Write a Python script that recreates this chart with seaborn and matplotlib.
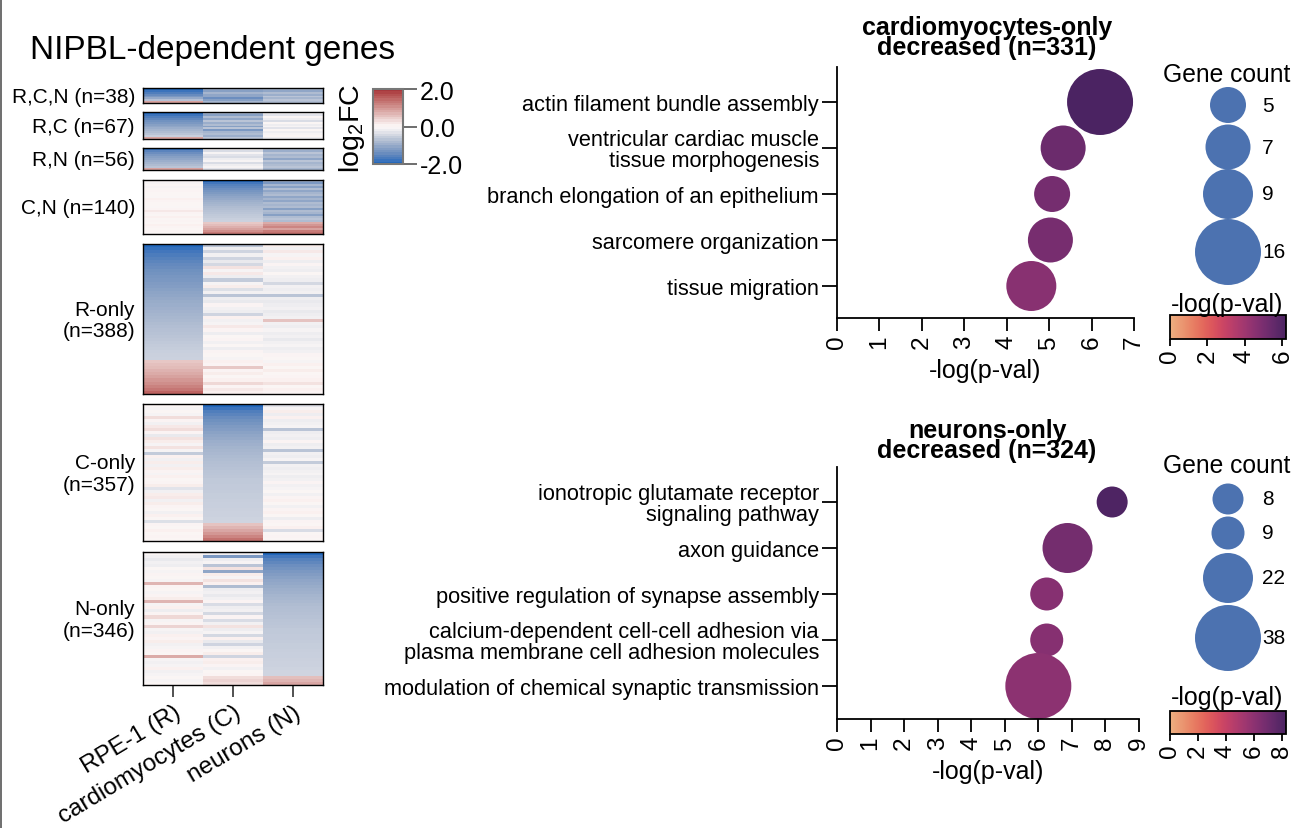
import numpy as np
import pandas as pd
import matplotlib
matplotlib.use('Agg')
import matplotlib.pyplot as plt
from matplotlib.cm import ScalarMappable
from matplotlib.colors import Normalize
from matplotlib.lines import Line2D
import seaborn as sns

# heatmap values (one entry = one stripe, top to bottom)
rcn_r = [-2.0, -1.85, -1.7, -1.5, -1.3, -1.05, -0.75, 0.9]
rcn_c = [-1.0, -1.2, -0.9, -1.1, -1.1, -1.45, -1.2, -0.9]
rcn_n = [-0.9, -1.1, -0.8, -1.0, -0.7, -0.9, -0.7, -0.8]

rc_r = [-2.0, -1.85, -1.7, -1.55, -1.4, -1.3, -1.2, -1.1, -1.0, -0.9, -0.8, -0.7, -0.55, 0.9]
rc_c = [-0.9, -1.2, -0.8, -1.1, -0.7, -1.0, -0.8, -1.2, -0.7, -1.3, -0.9, -0.8, -1.0, -0.7]
rc_n = [-0.1, -0.3, 0.0, -0.2, -0.4, 0.0, -0.2, -0.1, -0.3, 0.0, -0.2, -0.1, 0.0, -0.2]

rn_r = [-1.9, -1.6, -1.45, -1.3, -1.2, -1.1, -1.0, -0.9, -0.8, -0.7, 0.9]
rn_c = [-0.2, -0.4, -0.1, -0.3, -0.4, -0.2, -0.1, -0.4, -0.2, -0.1, -0.3]
rn_n = [-0.8, -1.0, -0.7, -0.9, -0.8, -1.1, -0.7, -0.9, -0.8, -0.7, -0.9]

cn_r = [-0.05, -0.1, 0.0, -0.1, 0.0, 0.05, 0.0, 0.0, -0.05, 0.1, 0.05, 0.0, 0.0, -0.05,
        0.05, 0.2, 0.05, 0.0, 0.1, 0.0, 0.05, 0.0, 0.1, 0.05, 0.0, 0.05, 0.0]
cn_c = [-2.0, -1.8, -1.65, -1.55, -1.45, -1.35, -1.28, -1.2, -1.12, -1.05, -0.98, -0.92, -0.86, -0.8,
        -0.76, -0.72, -0.68, -0.64, -0.6, -0.56, -0.52, 0.5, 0.62, 0.75, 0.9, 1.1, 1.3]
cn_n = [-1.0, -1.3, -0.9, -1.2, -0.8, -1.1, -0.9, -0.8, -1.1, -0.9, -1.1, -0.8, -0.9, -0.8,
        -1.2, -0.8, -0.9, -1.2, -0.8, -0.7, -0.8, 0.8, 1.0, 1.2, 0.9, 1.3, 1.4]

ronly_r = [-2.0, -1.9, -1.8, -1.72, -1.65, -1.58, -1.52, -1.47, -1.42, -1.38, -1.34, -1.3,
           -1.26, -1.22, -1.18, -1.14, -1.1, -1.06, -1.02, -0.99, -0.96, -0.93, -0.9, -0.87,
           -0.84, -0.81, -0.78, -0.75, -0.72, -0.69, -0.66, -0.63, -0.6, -0.58, -0.56, -0.54,
           -0.52, 0.52, 0.58, 0.64, 0.72, 0.8, 0.9, 1.0, 1.1, 1.22, 1.35, 1.55]
ronly_c = [-0.7, -0.2, -0.5, -0.15, -0.5, -0.25, -0.45, 0.25, -0.1, 0.2, -0.2, -0.6,
           -0.1, 0.15, -0.35, -0.15, -0.7, -0.2, -0.25, 0.05, -0.15, -0.2, -0.5, 0.1,
           -0.15, -0.1, 0.2, 0.05, -0.2, 0.0, 0.05, -0.15, 0.0, -0.2, 0.05, 0.0,
           -0.1, 0.1, 0.05, 0.5, 0.05, 0.15, 0.0, 0.1, 0.35, 0.05, 0.2, 0.1]
ronly_n = [0.15, -0.15, 0.2, -0.1, 0.1, -0.2, 0.05, -0.15, -0.2, 0.0, -0.15, -0.2,
           -0.45, -0.15, -0.2, -0.15, -0.7, -0.2, -0.25, -0.2, -0.15, -0.25, -0.2, -0.15,
           0.55, -0.15, -0.2, -0.1, -0.2, -0.15, -0.25, -0.15, -0.1, -0.2, -0.15, 0.05,
           0.0, -0.1, 0.1, 0.0, 0.15, 0.0, 0.05, 0.1, 0.25, 0.0, 0.1, 0.05]

conly_r = [0.0, -0.1, 0.0, -0.1, 0.3, 0.05, -0.15, 0.2, 0.3, 0.05, -0.25, 0.25,
           0.15, -0.1, 0.25, -0.1, -0.6, 0.1, -0.15, 0.15, -0.15, 0.15, 0.05, -0.1,
           0.1, 0.0, 0.05, 0.15, -0.3, -0.15, 0.15, 0.2, -0.15, 0.15, 0.05, 0.0,
           -0.15, 0.1, 0.0, -0.35, 0.05, 0.0, 0.1, 0.0, 0.05, 0.0]
conly_c = [-2.0, -1.85, -1.7, -1.6, -1.5, -1.42, -1.35, -1.28, -1.22, -1.16, -1.1, -1.05,
           -1.0, -0.96, -0.92, -0.88, -0.85, -0.82, -0.79, -0.76, -0.74, -0.72, -0.7, -0.68,
           -0.66, -0.64, -0.63, -0.62, -0.61, -0.6, -0.59, -0.58, -0.57, -0.56, -0.55, -0.54,
           -0.53, -0.52, -0.51, -0.5, 0.55, 0.7, 0.85, 1.0, 1.2, 1.4]
conly_n = [-0.3, -0.1, 0.15, -0.2, 0.1, -0.2, -0.15, -0.1, -0.7, -0.2, -0.15, -0.2,
           0.05, -0.2, -0.15, -0.7, -0.15, -0.2, -0.1, -0.6, -0.15, -0.2, -0.15, -0.1,
           -0.2, -0.15, 0.05, -0.15, -0.1, 0.0, -0.15, 0.05, 0.1, 0.0, -0.15, 0.05,
           0.1, 0.0, -0.2, 0.05, 0.0, 0.1, -0.4, 0.0, 0.05, 0.0]

nonly_r = [0.0, -0.15, -0.25, -0.15, -0.2, 0.0, -0.1, 0.05, 0.0, -0.1, 0.7, 0.05,
           0.0, -0.1, 0.05, 0.15, 0.7, -0.1, 0.1, -0.2, 0.05, 0.35, -0.1, 0.05,
           0.4, -0.1, -0.15, 0.1, 0.05, 0.15, -0.15, -0.1, 0.05, 0.0, 0.8, -0.1,
           -0.15, -0.1, 0.1, -0.15, -0.1, 0.0, -0.1, 0.0]
nonly_c = [-0.15, -1.3, -0.2, -0.1, -0.7, 0.25, -1.1, 0.15, -0.1, 0.25, 0.1, -0.8,
           -0.2, -0.15, -0.25, -0.15, 0.05, -0.4, -0.2, -0.15, -0.45, 0.05, -0.4, -0.15,
           0.25, -0.2, -0.1, -0.45, 0.1, -0.25, -0.5, -0.15, 0.0, 0.15, -0.5, 0.1,
           0.15, 0.05, -0.15, 0.0, 0.05, 0.3, 0.4, 0.3]
nonly_n = [-2.0, -1.8, -1.65, -1.55, -1.45, -1.38, -1.3, -1.24, -1.18, -1.12, -1.07, -1.02,
           -0.98, -0.94, -0.9, -0.87, -0.84, -0.81, -0.78, -0.76, -0.74, -0.72, -0.7, -0.68,
           -0.66, -0.64, -0.63, -0.62, -0.61, -0.6, -0.59, -0.58, -0.57, -0.56, -0.55, -0.54,
           -0.53, -0.52, -0.51, -0.5, -0.49, 0.6, 0.7, 0.85]

block_names = ['R,C,N (n=38)', 'R,C (n=67)', 'R,N (n=56)', 'C,N (n=140)',
               'R-only\n(n=388)', 'C-only\n(n=357)', 'N-only\n(n=346)']
cell_types = ['RPE-1 (R)', 'cardiomyocytes (C)', 'neurons (N)']

# bubble plots
cardio_terms = ['actin filament bundle assembly',
                'ventricular cardiac muscle\ntissue morphogenesis',
                'branch elongation of an epithelium',
                'sarcomere organization',
                'tissue migration']
cardio_pval = [6.2, 5.33, 5.07, 5.03, 4.58]
cardio_count = [16, 7, 5, 7, 9]

neuron_terms = ['ionotropic glutamate receptor\nsignaling pathway',
                'axon guidance',
                'positive regulation of synapse assembly',
                'calcium-dependent cell-cell adhesion via\nplasma membrane cell adhesion molecules',
                'modulation of chemical synaptic transmission']
neuron_pval = [8.2, 6.87, 6.25, 6.25, 6.0]
neuron_count = [8, 22, 9, 9, 38]

cardio_legend = [5, 7, 9, 16]
neuron_legend = [8, 9, 22, 38]

W, H = 1316, 829
sns.set_theme(style='ticks')
plt.rcParams['font.family'] = ['Liberation Sans', 'DejaVu Sans']
plt.rcParams['mathtext.default'] = 'regular'
plt.rcParams['axes.linewidth'] = 1.1
fig = plt.figure(figsize=(W / 100, H / 100), dpi=100)


def px_axes(l, t, r, b):
    return fig.add_axes([l / W, 1 - b / H, (r - l) / W, (b - t) / H])


def px_size(d):
    # bubble diameter in pixels -> scatter area
    return (d * 0.72) ** 2


fig.text(30 / W, 1 - 50 / H, 'NIPBL-dependent genes', fontsize=24, va='center', ha='left', color='black')
fig.add_artist(Line2D([0.0006, 0.0006], [0, 1], color='#555555', lw=1.2))

##############
# heatmaps
blocks = [(rcn_r, rcn_c, rcn_n), (rc_r, rc_c, rc_n), (rn_r, rn_c, rn_n), (cn_r, cn_c, cn_n),
          (ronly_r, ronly_c, ronly_n), (conly_r, conly_c, conly_n), (nonly_r, nonly_c, nonly_n)]
block_top = [89, 113, 149, 181, 245, 405, 553]
block_bottom = [104, 140, 171, 235, 395, 542, 686]

for i in range(len(blocks)):
    ax = px_axes(143, block_top[i], 323, block_bottom[i])
    df = pd.DataFrame(np.column_stack(blocks[i]), columns=cell_types)
    sns.heatmap(df, ax=ax, cmap='vlag', vmin=-2, vmax=2, cbar=False, xticklabels=False, yticklabels=False)
    for s in ax.spines.values():
        s.set_visible(True)
        s.set_color('black')
        s.set_linewidth(1.0)
    fig.text(135 / W, 1 - ((block_top[i] + block_bottom[i]) / 2 + 1) / H, block_names[i], fontsize=15,
             ha='right', va='center', linespacing=1.15, color='black')

# last heatmap carries the cell type labels
ax.set_xticks([0.5, 1.5, 2.5])
ax.set_xticklabels(cell_types, rotation=31, ha='right', rotation_mode='anchor', fontsize=17.5, color='black')
ax.tick_params(axis='x', length=8.5, width=1.2, color='#333333', pad=3, bottom=True)

# heatmap colorbar
cax = px_axes(373, 90, 403, 165)
cb = fig.colorbar(ScalarMappable(Normalize(-2, 2), sns.color_palette('vlag', as_cmap=True).resampled(32)), cax=cax)
cb.set_ticks([-2, 0, 2], labels=['-2.0', '0.0', '2.0'])
cb.ax.tick_params(labelsize=18, length=10, width=1.2, color='#555555', pad=2, labelcolor='black')
cb.outline.set_edgecolor('#777777')
cb.outline.set_linewidth(1.5)
fig.text(352 / W, 1 - 128 / H, 'log$_2$FC', fontsize=20.5, rotation=90, ha='center', va='center', color='black')


##############
# bubble plots
def bubble_panel(terms, pval, count, sizes, top, bottom, tick_ys, xmax, pmax, title, title_y):
    ax = px_axes(837, top, 837 + xmax[1], bottom)
    df = pd.DataFrame({'term': terms, 'pval': pval, 'count': count})
    sns.scatterplot(data=df, x='pval', y='term', hue='pval', size='count', sizes=sizes, palette='flare',
                    hue_norm=(0, pmax), linewidth=0, alpha=1, legend=False, ax=ax, clip_on=False)
    step = tick_ys[1] - tick_ys[0]
    ax.set_ylim(len(terms) - 1 + (bottom - tick_ys[-1]) / step, -(tick_ys[0] - top) / step)
    ax.set_xlim(0, xmax[0])
    ax.set_xticks(range(xmax[0] + 1))
    ax.set_xlabel('-log(p-val)', fontsize=18, color='black', labelpad=7)
    ax.set_ylabel('')
    ax.tick_params(axis='x', labelrotation=90, labelsize=17.5, length=9, width=1.3, color='black', labelcolor='black', pad=3)
    ax.tick_params(axis='y', labelsize=15.7, length=11, width=1.3, color='black', labelcolor='black', pad=2)
    for t in ax.get_yticklabels():
        t.set_linespacing(1.0)
    for s in ['left', 'bottom']:
        ax.spines[s].set_color('black')
        ax.spines[s].set_linewidth(1.3)
    sns.despine(ax=ax)
    fig.text(987 / W, 1 - title_y / H, title, fontsize=18, fontweight='bold', ha='center', va='center',
             linespacing=0.78, color='black')


cardio_sizes = {5: px_size(36), 7: px_size(45), 9: px_size(50), 16: px_size(66)}
neuron_sizes = {8: px_size(31), 9: px_size(33), 22: px_size(50), 38: px_size(66)}

bubble_panel(cardio_terms, cardio_pval, cardio_count, cardio_sizes, 68, 319, [103, 149, 195, 241, 287],
             (7, 297), 6.2, 'cardiomyocytes-only\ndecreased (n=331)', 38)
bubble_panel(neuron_terms, neuron_pval, neuron_count, neuron_sizes, 468, 720, [503, 549, 595, 641, 687],
             (9, 302), 8.3, 'neurons-only\ndecreased (n=324)', 441)


# gene count legends, drawn as their own little scatter
def size_legend(counts, sizes, ys, top, bottom, title_y):
    ax = px_axes(1170, top, 1286, bottom)
    sns.scatterplot(x=[0.5] * len(counts), y=ys, size=counts, sizes=sizes, color='#4C72B0', linewidth=0,
                    legend=False, ax=ax, clip_on=False)
    ax.set_xlim(0, 1)
    ax.set_ylim(bottom, top)
    ax.axis('off')
    for c, y in zip(counts, ys):
        fig.text(1262 / W, 1 - y / H, str(c), fontsize=15, va='center', ha='left', color='black')
    fig.text(1227 / W, 1 - title_y / H, 'Gene count', fontsize=17.7, ha='center', va='center', color='black')


size_legend(cardio_legend, cardio_sizes, [106, 148, 195, 253], 90, 290, 75)
size_legend(neuron_legend, neuron_sizes, [500, 534, 579, 639], 480, 680, 466)


# p-value colorbars
def pval_bar(pmax, ticks, top, bottom, title_y):
    cax = px_axes(1170, top, 1286, bottom)
    cb = fig.colorbar(ScalarMappable(Normalize(0, pmax), sns.color_palette('flare', as_cmap=True)),
                      cax=cax, orientation='horizontal')
    cb.set_ticks(ticks)
    cb.ax.tick_params(axis='x', labelrotation=90, labelsize=17.5, length=5, width=1.3, color='black', labelcolor='black', pad=2)
    cb.outline.set_edgecolor('black')
    cb.outline.set_linewidth(1.3)
    fig.text(1227 / W, 1 - title_y / H, '-log(p-val)', fontsize=18, ha='center', va='center', color='black')


pval_bar(6.2, [0, 2, 4, 6], 316, 340, 305)
pval_bar(8.3, [0, 2, 4, 6, 8], 712, 735, 698)

fig.savefig('out.png', dpi=100, facecolor='white')
